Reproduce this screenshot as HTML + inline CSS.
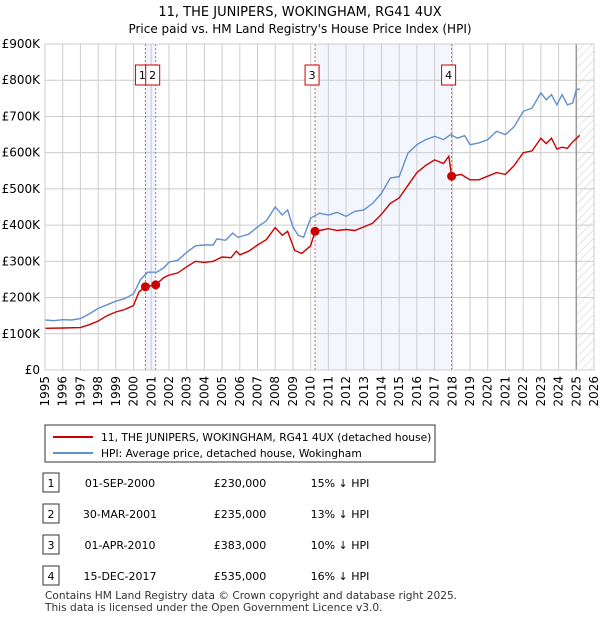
<!DOCTYPE html>
<html><head><meta charset="utf-8"><style>
body{margin:0;background:#fff;font-family:"Liberation Sans","DejaVu Sans",sans-serif;}
</style></head><body>
<svg width="600" height="620" xmlns="http://www.w3.org/2000/svg" style="font-family:'DejaVu Sans','Liberation Sans',sans-serif">
<defs><pattern id="hatch" width="6" height="6" patternUnits="userSpaceOnUse" patternTransform="rotate(45)"><line x1="0" y1="0" x2="0" y2="6" stroke="#ccc" stroke-width="1"/></pattern></defs>
<text x="300" y="16" text-anchor="middle" font-size="13">11, THE JUNIPERS, WOKINGHAM, RG41 4UX</text>
<text x="300" y="33" text-anchor="middle" font-size="12">Price paid vs. HM Land Registry's House Price Index (HPI)</text>
<g id="plot"></g>
<g>
<rect x="45" y="425" width="390" height="37" fill="#fff" stroke="#333"/>
<line x1="53" y1="437" x2="93" y2="437" stroke="#cc0000" stroke-width="2"/>
<text x="101" y="441" font-size="10.7">11, THE JUNIPERS, WOKINGHAM, RG41 4UX (detached house)</text>
<line x1="53" y1="453" x2="93" y2="453" stroke="#6090d0" stroke-width="2"/>
<text x="101" y="457" font-size="10.7">HPI: Average price, detached house, Wokingham</text>
</g>
<g id="table" font-size="11"></g>
<text x="45" y="599" font-size="10.6" fill="#333">Contains HM Land Registry data © Crown copyright and database right 2025.</text>
<text x="45" y="611" font-size="10.6" fill="#333">This data is licensed under the Open Government Licence v3.0.</text>
</svg>
<script>
const hpiYears=[1995,1995.5,1996,1996.5,1997,1997.5,1998,1998.5,1999,1999.5,2000,2000.4,2000.8,2001.3,2001.7,2002,2002.5,2003,2003.5,2004,2004.5,2004.7,2005.2,2005.6,2005.9,2006.5,2007,2007.5,2008,2008.4,2008.7,2009,2009.3,2009.6,2010,2010.5,2011,2011.5,2012,2012.5,2013,2013.5,2014,2014.5,2015,2015.5,2016,2016.5,2017,2017.5,2017.9,2018.3,2018.7,2019,2019.5,2020,2020.5,2021,2021.5,2022,2022.5,2023,2023.3,2023.6,2023.9,2024.2,2024.5,2024.8,2025,2025.2];
const hpiValues=[138,136,139,138,142,155,170,180,190,197,210,250,270,270,282,298,303,325,343,345,345,362,358,378,366,375,395,412,450,428,442,395,372,366,419,433,428,435,424,438,442,460,488,530,534,599,622,636,645,636,650,640,647,622,627,636,659,650,672,714,723,765,746,760,732,760,732,737,774,776];
const ppYears=[1995,1996,1997,1997.5,1998,1998.5,1999,1999.5,2000,2000.3,2000.67,2001.25,2001.7,2002,2002.5,2003,2003.5,2004,2004.5,2005,2005.5,2005.8,2006,2006.5,2007,2007.5,2008,2008.4,2008.7,2009.1,2009.5,2010,2010.25,2010.5,2011,2011.5,2012,2012.5,2013,2013.5,2014,2014.5,2015,2015.5,2016,2016.5,2017,2017.5,2017.8,2017.96,2018.5,2019,2019.5,2020,2020.5,2021,2021.5,2022,2022.5,2023,2023.3,2023.6,2023.9,2024.2,2024.5,2024.8,2025.2];
const ppValues=[115,116,117,125,135,150,160,167,178,215,230,235,255,262,268,285,300,297,300,312,310,328,318,328,345,360,393,372,383,330,322,343,383,385,390,385,388,385,395,405,430,460,475,510,545,565,580,570,590,535,540,525,525,535,545,540,565,600,605,640,625,640,610,615,612,630,648];
const saleYears=[2000.67,2001.25,2010.25,2017.96];
const saleValues=[230,235,383,535];
const saleLabels=["1","2","3","4"];
const saleDates=["01-SEP-2000","30-MAR-2001","01-APR-2010","15-DEC-2017"];
const salePrices=["£230,000","£235,000","£383,000","£535,000"];
const salePct=["15% ↓ HPI","13% ↓ HPI","10% ↓ HPI","16% ↓ HPI"];
const yTicks=[0,100,200,300,400,500,600,700,800,900];
const yTickLabels=["£0","£100K","£200K","£300K","£400K","£500K","£600K","£700K","£800K","£900K"];
const xTicks=[];for(let y=1995;y<=2026;y++)xTicks.push(y);

const NS="http://www.w3.org/2000/svg";
const X0=45,X1=594,Y0=370,Y1=44;
const xs=y=>X0+(y-1995)/(2026-1995)*(X1-X0);
const ys=v=>Y0-v/900*(Y0-Y1);
const plot=document.getElementById('plot');
function mk(tag,attrs,parent){const e=document.createElementNS(NS,tag);for(const k in attrs)e.setAttribute(k,attrs[k]);(parent||plot).appendChild(e);return e;}

let r=mk('rect',{x:xs(saleYears[0]),y:Y1,width:xs(saleYears[1])-xs(saleYears[0]),height:Y0-Y1,fill:'#eef3fc'});


r=mk('rect',{x:xs(saleYears[2]),y:Y1,width:xs(saleYears[3])-xs(saleYears[2]),height:Y0-Y1,fill:'#f3f6fd'});


r=mk('rect',{x:xs(2025),y:Y1,width:X1-xs(2025),height:Y0-Y1,fill:'url(#hatch)'});



xTicks.forEach(t=>{const l=mk('line',{x1:xs(t),x2:xs(t),y1:Y1,y2:Y0,stroke:'#ccc'});


const tx=mk('text',{x:0,y:0,'font-size':12,'text-anchor':'end',transform:`translate(${xs(t)+4},${Y0+6}) rotate(-90)`});tx.textContent=t;

});
yTicks.forEach((t,i)=>{const l=mk('line',{x1:X0,x2:X1,y1:ys(t),y2:ys(t),stroke:'#ccc'});


const tx=mk('text',{x:X0-5,y:ys(t)+4,'font-size':12,'text-anchor':'end'});tx.textContent=yTickLabels[i];

});
let ln=mk('line',{x1:xs(2025),x2:xs(2025),y1:Y1,y2:Y0,stroke:'#999','stroke-width':1.5});



saleYears.forEach((s,i)=>{const l=mk('line',{x1:xs(s),x2:xs(s),y1:Y1,y2:Y0,stroke:'#e06060','stroke-dasharray':'2,2'});

});

function path(xsA,vs,color,name){const d=xsA.map((y,i)=>(i?'L':'M')+xs(y).toFixed(1)+','+ys(vs[i]).toFixed(1)).join('');
const p=mk('path',{d:d,fill:'none',stroke:color,'stroke-width':1.4});

}
path(hpiYears,hpiValues,'#6090d0','hpi-line');
path(ppYears,ppValues,'#cc0000','price-paid-line');

saleYears.forEach((s,i)=>{const c=mk('circle',{cx:xs(s),cy:ys(saleValues[i]),r:4.5,fill:'#cc0000'});


const bx=xs(s)-10;
const b=mk('rect',{x:bx,y:65,width:14,height:20,fill:'#fff',stroke:'#cc0000'});


const t=mk('text',{x:bx+7,y:79,'font-size':11,'text-anchor':'middle'});t.textContent=saleLabels[i];

});
let br=mk('rect',{x:X0,y:Y1,width:X1-X0,height:Y0-Y1,fill:'none',stroke:'#ccc'});



const tb=document.getElementById('table');
const rowY=[483,514,545,576];
rowY.forEach((y,i)=>{const b=mk('rect',{x:43,y:y-10,width:16,height:19,fill:'#fff',stroke:'#333'},tb);


const cells=[[51,saleLabels[i],'middle'],[120,saleDates[i],'middle'],[240,salePrices[i],'middle'],[340,salePct[i],'middle']];
cells.forEach(c=>{const t=mk('text',{x:c[0],y:y+4,'text-anchor':c[2]},tb);t.textContent=c[1];

});});
</script>
</body></html>
